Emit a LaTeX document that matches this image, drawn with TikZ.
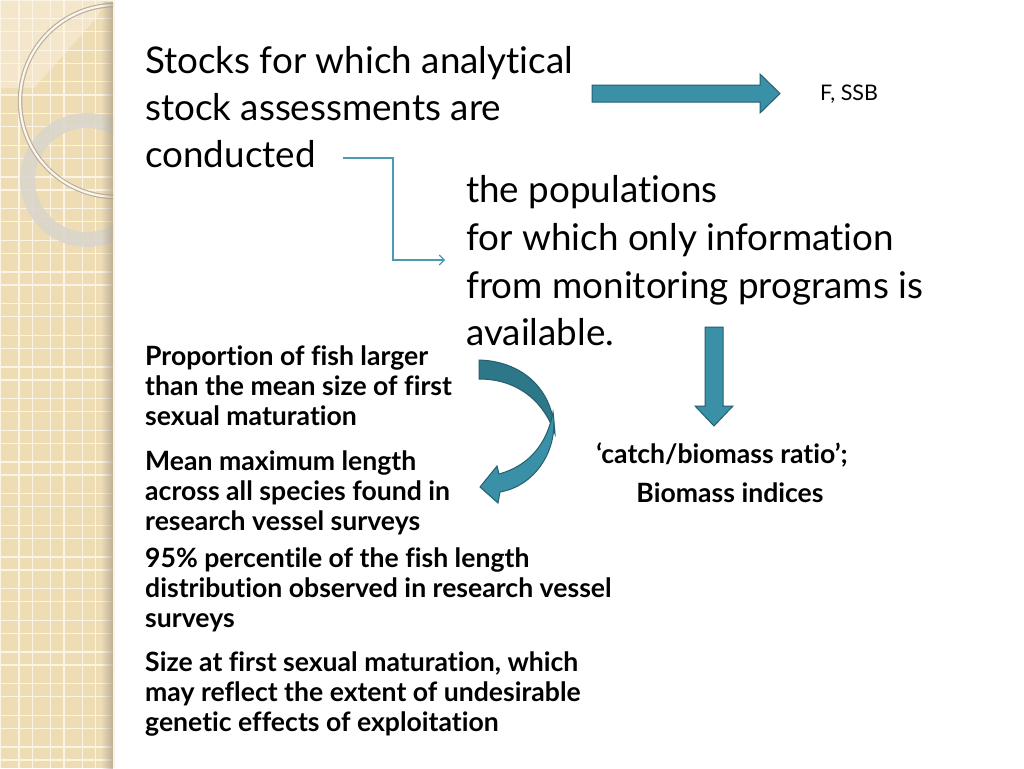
\documentclass[tikz,border=0pt]{standalone}
\usepackage{fontspec}
\setmainfont{Lato}[Ligatures={TeX,NoCommon}]
\usetikzlibrary{arrows.meta,fadings}
\definecolor{stripbg}{HTML}{EEDCB5}
\definecolor{gridln}{HTML}{FBF4E4}
\definecolor{shadowcol}{HTML}{A89C88}
\definecolor{ringgrey}{HTML}{D9D5CD}
\definecolor{ringedge}{HTML}{B9AD98}
\definecolor{ringlight}{HTML}{FBF7EE}
\definecolor{teal}{HTML}{3A90A6}
\definecolor{tealdark}{HTML}{2D7788}
\definecolor{tealedge}{HTML}{23606F}
\definecolor{connline}{HTML}{4A9BB0}
\tikzfading[name=fade right, left color=transparent!100, right color=transparent!0]
\begin{document}
\begin{tikzpicture}[x=1pt,y=-1pt,
  maintxt/.style={anchor=base west, inner sep=0pt, font=\fontsize{36.8}{44}\selectfont},
  boldtxt/.style={anchor=base west, inner sep=0pt, font=\bfseries\fontsize{26.6}{30}\selectfont},
  boldc/.style={anchor=base, inner sep=0pt, font=\bfseries\fontsize{26.6}{30}\selectfont},
  smalltxt/.style={anchor=base west, inner sep=0pt, font=\fontsize{21.5}{24}\selectfont},
  blockarrow/.style={fill=teal, draw=tealedge, line width=1pt, line join=miter},
  elbow/.style={draw=connline, line width=1.1pt, -{Straight Barb[length=5pt,width=10pt]}}]
\useasboundingbox (0,0) rectangle (1024,768);
\fill[white] (0,0) rectangle (1024,768);
% decorative strip
\fill[stripbg] (0,0) rectangle (113,768);
\fill[white, opacity=0.3] (0,0) -- (104,0) -- (98,16) -- (34,88) -- (0,88) -- cycle;
\foreach \k in {0,...,24} {
  \draw[gridln, line width=1.3pt] (0,31.67*\k) -- (113,31.67*\k);
  \draw[gridln, line width=1.3pt] (0,31.67*\k+18.5) -- (113,31.67*\k+18.5);
}
\foreach \k in {0,...,3} {
  \draw[gridln, line width=1.3pt] (31.67*\k+0.6,0) -- (31.67*\k+0.6,768);
  \draw[gridln, line width=1.3pt] (31.67*\k+19,0) -- (31.67*\k+19,768);
}
\begin{scope}
  \clip (0,0) rectangle (113,768);
  \fill[ringgrey, opacity=0.85, even odd rule] (87,180) circle[radius=67] (87,180) circle[radius=52];
  \draw[ringedge, line width=4.5pt] (116,101) circle[radius=96];
  \draw[ringlight, line width=2.2pt] (116,101) circle[radius=96];
\end{scope}
\fill[shadowcol, path fading=fade right, opacity=0.7] (101,0) rectangle (113,768);

% texts
\node[maintxt] (s1) at (145,73) {Stocks for which analytical};
\node[maintxt] (s2) at (145,120) {stock assessments are};
\node[maintxt] (s3) at (145,167) {conducted};
\node[maintxt] (p1) at (466,202) {the populations};
\node[maintxt] (p2) at (466,250) {for which only information};
\node[maintxt] (p3) at (466,298) {from monitoring programs is};
\node[maintxt] (p4) at (466,345) {available.};
\node[smalltxt] (fssb) at (820,100) {F, SSB};
\node[boldtxt] (b1) at (145,365) {Proportion of fish larger};
\node[boldtxt] (b2) at (145,395) {than the mean size of first};
\node[boldtxt] (b3) at (145,425) {sexual maturation};
\node[boldtxt] (m1) at (145,470) {Mean maximum length};
\node[boldtxt] (m2) at (145,500) {across all species found in};
\node[boldtxt] (m3) at (145,530) {research vessel surveys};
\node[boldtxt] (n1) at (145,567) {95\% percentile of the fish length};
\node[boldtxt] (n2) at (145,597) {distribution observed in research vessel};
\node[boldtxt] (n3) at (145,627) {surveys};
\node[boldtxt] (z1) at (145,671) {Size at first sexual maturation, which};
\node[boldtxt] (z2) at (145,701) {may reflect the extent of undesirable};
\node[boldtxt] (z3) at (145,731) {genetic effects of exploitation};
\node[boldc] (c1) at (722,463) {‘catch/biomass ratio’;};
\node[boldc] (c2) at (730,502) {Biomass indices};

% elbow connector
\coordinate (elbowStart) at (343,158);
\coordinate (elbowMid) at (393,210);
\coordinate (elbowEnd) at (445,260);
\draw[elbow] (elbowStart) -| (elbowMid) |- (elbowEnd);

% right block arrow
\draw[blockarrow] (592,85) -- (760,85) -- (760,74) -- (780,93.5) -- (760,113) -- (760,102) -- (592,102) -- cycle;
% down block arrow
\draw[blockarrow] (705,327) -- (723,327) -- (723,406) -- (733,406) -- (714,426) -- (695,406) -- (705,406) -- cycle;
% curved block arrow
\draw[fill=tealdark, draw=tealedge, line width=1pt] (479,360) .. controls (518,361) and (553,385) .. (555,434)
   .. controls (545,404) and (520,379) .. (479,379) -- cycle;
\draw[blockarrow] (553,412) .. controls (559,450) and (535,486) .. (500,492) -- (498,503) -- (480,487)
   -- (497,466) -- (499,474) .. controls (528,466) and (547,445) .. (553,412) -- cycle;
\end{tikzpicture}
\end{document}
